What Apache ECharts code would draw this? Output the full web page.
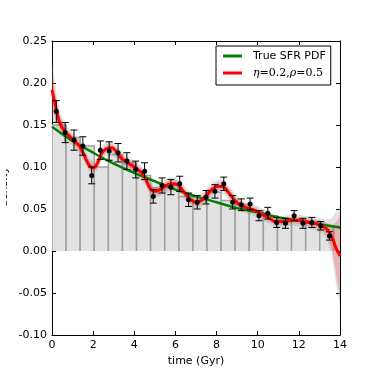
<!DOCTYPE html>
<html><head><meta charset="utf-8">
<script src="https://cdn.jsdelivr.net/npm/echarts@6/dist/echarts.min.js"></script>
<style>html,body{margin:0;padding:0;background:#fff}#c{width:370px;height:368px}</style>
</head><body><div id="c"></div>
<script>
// histogram bins (Gyr) and heights
const binEdges = [0, 0.685, 1.37, 2.055, 2.74, 3.425, 4.11, 4.795, 5.48, 6.165, 6.85, 7.535, 8.22, 8.905, 9.59, 10.275, 10.96, 11.645, 12.33, 13.015, 13.7];
const barHeights = [0.150, 0.135, 0.125, 0.100, 0.115, 0.105, 0.090, 0.075, 0.078, 0.065, 0.060, 0.070, 0.060, 0.055, 0.048, 0.042, 0.037, 0.038, 0.035, 0.030];
// data points with error bars
const pointX = [0.21, 0.64, 1.07, 1.5, 1.93, 2.35, 2.78, 3.21, 3.64, 4.07, 4.5, 4.92, 5.35, 5.78, 6.21, 6.64, 7.06, 7.49, 7.92, 8.35, 8.78, 9.2, 9.63, 10.06, 10.49, 10.92, 11.35, 11.77, 12.2, 12.63, 13.06, 13.49];
const pointY = [0.166, 0.141, 0.132, 0.125, 0.090, 0.120, 0.119, 0.117, 0.107, 0.097, 0.095, 0.065, 0.078, 0.076, 0.080, 0.061, 0.058, 0.064, 0.071, 0.080, 0.058, 0.055, 0.056, 0.042, 0.045, 0.034, 0.033, 0.042, 0.033, 0.034, 0.030, 0.018];
const pointErr = [0.013, 0.012, 0.012, 0.011, 0.010, 0.011, 0.011, 0.011, 0.010, 0.010, 0.010, 0.008, 0.009, 0.009, 0.009, 0.008, 0.008, 0.008, 0.008, 0.008, 0.008, 0.007, 0.007, 0.006, 0.007, 0.006, 0.006, 0.006, 0.006, 0.006, 0.005, 0.005];
// true SFR PDF
const trueX = [0, 1, 2, 3, 4, 5, 6, 7, 8, 9, 10, 11, 12, 13, 14];
const trueY = [0.148, 0.131, 0.117, 0.104, 0.093, 0.083, 0.073, 0.065, 0.058, 0.051, 0.046, 0.040, 0.036, 0.032, 0.028];
// fitted curve eta=0.2, rho=0.5
const fitX = [0, 0.23, 0.39, 0.63, 0.88, 1.12, 1.36, 1.6, 1.81, 2.01, 2.2, 2.41, 2.66, 2.9, 3.14, 3.39, 3.63, 3.87, 4.12, 4.36, 4.55, 4.76, 5.0, 5.25, 5.5, 5.75, 6.0, 6.22, 6.45, 6.7, 7.0, 7.25, 7.5, 7.8, 8.1, 8.35, 8.6, 8.9, 9.2, 9.5, 9.8, 10.1, 10.5, 10.9, 11.3, 11.7, 12.1, 12.5, 12.9, 13.2, 13.4, 13.6, 13.8, 14.0];
const fitY = [0.192, 0.166, 0.152, 0.142, 0.136, 0.130, 0.124, 0.112, 0.102, 0.099, 0.104, 0.116, 0.122, 0.123, 0.118, 0.110, 0.106, 0.102, 0.098, 0.093, 0.086, 0.075, 0.071, 0.073, 0.077, 0.080, 0.080, 0.076, 0.069, 0.062, 0.058, 0.060, 0.066, 0.074, 0.077, 0.076, 0.069, 0.060, 0.054, 0.051, 0.049, 0.045, 0.040, 0.035, 0.035, 0.037, 0.036, 0.034, 0.032, 0.029, 0.025, 0.017, 0.004, -0.006];
const fitInner = [0.022, 0.012, 0.008, 0.006, 0.005, 0.005, 0.005, 0.005, 0.005, 0.005, 0.005, 0.005, 0.005, 0.005, 0.005, 0.005, 0.005, 0.005, 0.005, 0.005, 0.005, 0.005, 0.005, 0.005, 0.005, 0.005, 0.005, 0.005, 0.005, 0.005, 0.005, 0.005, 0.005, 0.005, 0.005, 0.005, 0.005, 0.005, 0.004, 0.004, 0.004, 0.004, 0.004, 0.004, 0.004, 0.004, 0.004, 0.004, 0.005, 0.006, 0.008, 0.014, 0.030, 0.048];
const fitOuter = [0.034, 0.020, 0.013, 0.010, 0.008, 0.008, 0.008, 0.008, 0.008, 0.008, 0.008, 0.008, 0.008, 0.008, 0.008, 0.008, 0.008, 0.008, 0.008, 0.008, 0.008, 0.008, 0.008, 0.008, 0.008, 0.008, 0.008, 0.008, 0.008, 0.008, 0.008, 0.008, 0.008, 0.008, 0.008, 0.008, 0.008, 0.008, 0.007, 0.007, 0.007, 0.007, 0.007, 0.007, 0.007, 0.007, 0.007, 0.007, 0.008, 0.009, 0.013, 0.022, 0.042, 0.060];
const seriesNames = ['True SFR PDF', 'η=0.2,ρ=0.5'];

const FONT = 'DejaVu Sans';
const chart = echarts.init(document.getElementById('c'), null, {renderer: 'canvas'});

function bandSeries(half, fill, z) {
  return {
    type: 'custom', silent: true, z: z, clip: true,
    data: [[0, 0]],
    renderItem: function (params, api) {
      const up = [], lo = [];
      for (let i = 0; i < fitX.length; i++) {
        up.push(api.coord([fitX[i], fitY[i] + half[i]]));
        lo.push(api.coord([fitX[i], fitY[i] - half[i]]));
      }
      const pts = up.concat(lo.reverse());
      return {type: 'polygon', shape: {points: pts, smooth: 0}, style: {fill: fill, stroke: null}};
    }
  };
}

const option = {
  animation: false,
  backgroundColor: '#fff',
  grid: {left: 52, right: 30, top: 41, bottom: 33, containLabel: false, outerBoundsMode: 'none'},
  xAxis: [{
    type: 'value', min: 0, max: 14, interval: 2, position: 'bottom',
    name: 'time (Gyr)', nameLocation: 'middle', nameGap: 16,
    nameTextStyle: {fontFamily: FONT, fontSize: 11, color: '#000'},
    axisLine: {show: true, onZero: false, lineStyle: {color: '#000', width: 1}},
    axisTick: {show: true, inside: true, length: 4, lineStyle: {color: '#000'}},
    axisLabel: {fontFamily: FONT, fontSize: 11, color: '#000', margin: 5},
    splitLine: {show: false}
  }, {
    type: 'value', min: 0, max: 14, interval: 2, position: 'top',
    axisLine: {show: true, onZero: false, lineStyle: {color: '#000', width: 1}},
    axisTick: {show: true, inside: true, length: 4, lineStyle: {color: '#000'}},
    axisLabel: {show: false}, splitLine: {show: false}
  }],
  yAxis: [{
    type: 'value', min: -0.1, max: 0.25, interval: 0.05, position: 'left',
    axisLine: {show: true, onZero: false, lineStyle: {color: '#000', width: 1}},
    axisTick: {show: true, inside: true, length: 4, lineStyle: {color: '#000'}},
    axisLabel: {fontFamily: FONT, fontSize: 11, color: '#000', margin: 5,
      formatter: v => v.toFixed(2)},
    splitLine: {show: false}
  }, {
    type: 'value', min: -0.1, max: 0.25, interval: 0.05, position: 'right',
    axisLine: {show: true, onZero: false, lineStyle: {color: '#000', width: 1}},
    axisTick: {show: true, inside: true, length: 4, lineStyle: {color: '#000'}},
    axisLabel: {show: false}, splitLine: {show: false}
  }],
  legend: {
    show: true, orient: 'vertical', left: 216, top: 46,
    data: [{name: seriesNames[0], icon: 'rect'}, {name: seriesNames[1], icon: 'rect'}],
    itemWidth: 19, itemHeight: 3, itemGap: 3,
    padding: [3, 5, 5, 7],
    borderColor: '#000', borderWidth: 1, borderRadius: 0, backgroundColor: '#fff',
    selectedMode: false,
    textStyle: {fontFamily: FONT, fontSize: 11, color: '#000', lineHeight: 14, padding: [0, 0, 0, 6],
      rich: {
        i: {fontFamily: 'DejaVu Serif', fontStyle: 'italic', fontSize: 11, color: '#000'},
        n: {fontFamily: 'DejaVu Serif', fontSize: 11, color: '#000'}
      }},
    formatter: function (name) {
      if (name === seriesNames[1]) return '{i|η}{n|=0.2,}{i|ρ}{n|=0.5}';
      return name;
    }
  },
  graphic: [
    {type: 'text', x: 10, y: 187, rotation: Math.PI / 2,
      style: {text: 'density', fontFamily: FONT, fontSize: 11, fill: '#000', align: 'center', verticalAlign: 'bottom'}, z: 100},
    {type: 'rect', shape: {x: 0, y: 0, width: 6, height: 368}, style: {fill: '#fff'}, z: 101}
  ],
  series: [
    {
      type: 'custom', name: 'hist', silent: true, z: 1, clip: true,
      data: barHeights.map((h, i) => [binEdges[i], h, binEdges[i + 1]]),
      renderItem: function (params, api) {
        const x0 = api.value(0), h = api.value(1), x1 = api.value(2);
        const pTL = api.coord([x0, h]), pBR = api.coord([x1, 0]);
        return {type: 'group', children: [
          {type: 'rect', shape: {x: pTL[0], y: pTL[1], width: pBR[0] - pTL[0], height: pBR[1] - pTL[1]},
            style: {fill: '#e2e2e2', stroke: null}},
          {type: 'polyline', shape: {points: [[pTL[0], pBR[1]], [pTL[0], pTL[1]], [pBR[0], pTL[1]], [pBR[0], pBR[1]]]},
            style: {stroke: '#a0a0a0', lineWidth: 1.5, fill: null}}
        ]};
      }
    },
    bandSeries(fitOuter, 'rgba(150,150,150,0.28)', 2),
    bandSeries(fitInner, 'rgba(255,0,0,0.2)', 3),
    {
      type: 'line', name: seriesNames[0], z: 4,
      data: trueX.map((x, i) => [x, trueY[i]]),
      smooth: 0.4, showSymbol: false, symbol: 'none',
      lineStyle: {color: '#008000', width: 2.5}, itemStyle: {color: '#008000'}
    },
    {
      type: 'line', name: seriesNames[1], z: 5,
      data: fitX.map((x, i) => [x, fitY[i]]),
      smooth: 0.4, showSymbol: false, symbol: 'none',
      lineStyle: {color: '#ff0000', width: 3}, itemStyle: {color: '#ff0000'}
    },
    {
      type: 'custom', name: 'points', silent: true, z: 6, clip: true,
      data: pointX.map((x, i) => [x, pointY[i], pointErr[i]]),
      renderItem: function (params, api) {
        const x = api.value(0), y = api.value(1), e = api.value(2);
        const pc = api.coord([x, y]), pt = api.coord([x, y + e]), pb = api.coord([x, y - e]);
        const cw = 3.5;
        const st = {stroke: '#000', lineWidth: 1};
        return {type: 'group', children: [
          {type: 'line', shape: {x1: pc[0], y1: pt[1], x2: pc[0], y2: pb[1]}, style: st},
          {type: 'line', shape: {x1: pc[0] - cw, y1: pt[1], x2: pc[0] + cw, y2: pt[1]}, style: st},
          {type: 'line', shape: {x1: pc[0] - cw, y1: pb[1], x2: pc[0] + cw, y2: pb[1]}, style: st},
          {type: 'circle', shape: {cx: pc[0], cy: pc[1], r: 2.5}, style: {fill: '#000'}}
        ]};
      }
    }
  ]
};
chart.setOption(option);
</script>
</body></html>
